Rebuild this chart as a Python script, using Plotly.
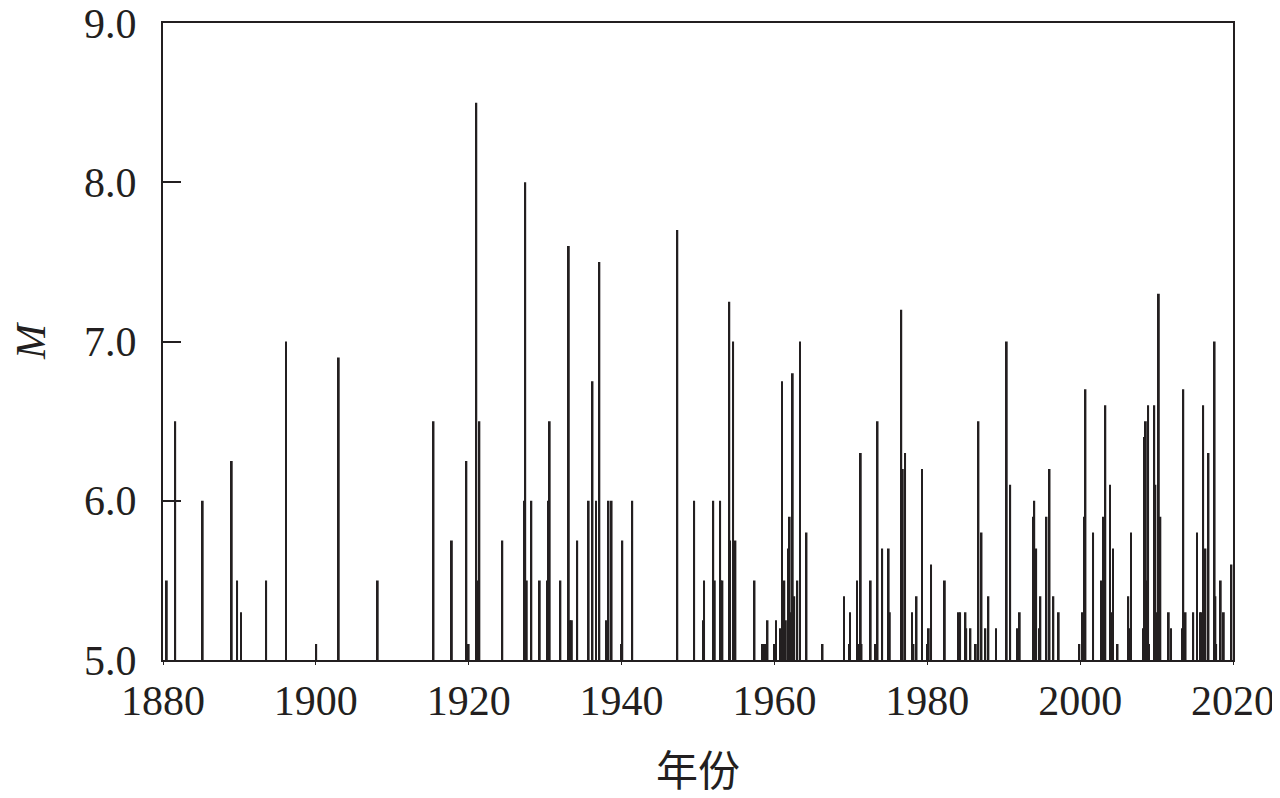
import plotly.graph_objects as go

# Event years (decimal) and magnitudes
years = [
    1880.5, 1881.6, 1885.2, 1889.0, 1889.7, 1890.2, 1893.5, 1896.1, 1900.05, 1903.0,
    1908.1, 1915.4, 1917.8, 1919.7, 1920.0, 1921.0, 1921.3, 1921.4, 1924.4, 1927.3,
    1927.4, 1927.6, 1928.2, 1929.3, 1930.3, 1930.4, 1930.6, 1932.0, 1933.1, 1933.3,
    1933.5, 1934.2, 1935.7, 1936.2, 1936.65, 1937.1, 1938.0, 1938.3, 1938.7, 1940.0,
    1940.1, 1941.4, 1947.3, 1949.5, 1950.65, 1950.8, 1952.0, 1952.2, 1952.9, 1953.0,
    1953.2, 1954.1, 1954.2, 1954.6, 1954.9, 1957.4, 1958.4, 1958.7, 1958.9, 1959.1,
    1960.0, 1960.2, 1960.8, 1961.0, 1961.3, 1961.5, 1961.8, 1962.0, 1962.2, 1962.4,
    1962.6, 1963.0, 1963.35, 1964.2, 1966.3, 1969.1, 1969.8, 1969.9, 1970.8, 1971.0,
    1971.2, 1971.3, 1971.4, 1972.6, 1973.2, 1973.5, 1974.1, 1974.95, 1975.1, 1976.6,
    1976.8, 1977.1, 1978.0, 1978.2, 1978.6, 1979.3, 1980.0, 1980.2, 1980.5, 1982.3,
    1984.1, 1984.3, 1985.0, 1985.1, 1985.65, 1986.35, 1986.7, 1987.1, 1987.6, 1988.0,
    1989.0, 1990.4, 1990.85, 1991.8, 1992.1, 1993.9, 1994.0, 1994.25, 1994.7, 1994.8,
    1995.6, 1996.0, 1996.5, 1997.2, 1999.9, 2000.3, 2000.5, 2000.7, 2001.7, 2002.8,
    2003.0, 2003.3, 2003.9, 2004.2, 2004.3, 2004.9, 2006.3, 2006.4, 2006.65, 2008.3,
    2008.4, 2008.6, 2008.7, 2008.9, 2009.0, 2009.7, 2009.85, 2010.0, 2010.3, 2010.5,
    2011.6, 2011.9, 2013.4, 2013.5, 2013.8, 2014.8, 2015.3, 2015.7, 2015.85, 2016.1,
    2016.4, 2016.8, 2017.6, 2017.7, 2017.8, 2018.4, 2018.8, 2019.8,
]
magnitudes = [
    5.5, 6.5, 6.0, 6.25, 5.5, 5.3, 5.5, 7.0, 5.1, 6.9,
    5.5, 6.5, 5.75, 6.25, 5.1, 8.5, 5.5, 6.5, 5.75, 6.0,
    8.0, 5.5, 6.0, 5.5, 5.5, 6.0, 6.5, 5.5, 7.6, 5.25,
    5.25, 5.75, 6.0, 6.75, 6.0, 7.5, 5.25, 6.0, 6.0, 5.1,
    5.75, 6.0, 7.7, 6.0, 5.25, 5.5, 6.0, 5.5, 6.0, 5.5,
    5.5, 7.25, 5.75, 7.0, 5.75, 5.5, 5.1, 5.1, 5.1, 5.25,
    5.1, 5.25, 5.2, 6.75, 5.5, 5.25, 5.7, 5.9, 5.3, 6.8,
    5.4, 5.5, 7.0, 5.8, 5.1, 5.4, 5.1, 5.3, 5.5, 5.1,
    6.3, 6.3, 5.1, 5.5, 5.1, 6.5, 5.7, 5.7, 5.3, 7.2,
    6.2, 6.3, 5.3, 5.1, 5.4, 6.2, 5.1, 5.2, 5.6, 5.5,
    5.3, 5.3, 5.3, 5.2, 5.2, 5.1, 6.5, 5.8, 5.2, 5.4,
    5.2, 7.0, 6.1, 5.2, 5.3, 5.9, 6.0, 5.7, 5.2, 5.4,
    5.9, 6.2, 5.4, 5.3, 5.1, 5.3, 5.9, 6.7, 5.8, 5.5,
    5.9, 6.6, 6.1, 5.3, 5.7, 5.1, 5.4, 5.2, 5.8, 5.2,
    6.4, 6.5, 5.5, 6.6, 5.1, 6.6, 6.1, 5.3, 7.3, 5.9,
    5.3, 5.2, 5.2, 6.7, 5.3, 5.3, 5.8, 5.3, 5.3, 6.6,
    5.7, 6.3, 7.0, 5.4, 5.1, 5.5, 5.3, 5.6,
]
x_ticks = [1880, 1900, 1920, 1940, 1960, 1980, 2000, 2020]
y_ticks = [5.0, 6.0, 7.0, 8.0, 9.0]

ink = "#231f20"
serif = "Liberation Serif, Times New Roman, serif"

fig = go.Figure(go.Bar(
    x=years, y=magnitudes, width=0.24,
    marker=dict(color=ink, line=dict(width=0)),
    hoverinfo="x+y",
))

fig.update_layout(
    width=1272, height=790,
    margin=dict(l=155, r=47, t=15, b=138),
    paper_bgcolor="white", plot_bgcolor="white",
    showlegend=False,
    font=dict(family=serif, size=42, color=ink),
)
fig.update_xaxes(
    range=[1880, 2020], tickvals=x_ticks, automargin=False,
    ticklabeloverflow="allow",
    showline=True, linecolor=ink, linewidth=2, mirror=True,
    ticks="outside", ticklen=3, tickwidth=1, tickcolor=ink,
    showgrid=False, zeroline=False,
    tickfont=dict(family=serif, size=42, color=ink),
    title=dict(text="年份", font=dict(family="Noto Sans CJK SC", size=42, color=ink), standoff=53),
)
fig.update_yaxes(
    range=[5, 9], tickvals=y_ticks, tickformat=".1f", automargin=False,
    ticklabeloverflow="allow",
    showline=True, linecolor=ink, linewidth=2, mirror=True,
    ticks="inside", ticklen=18, tickwidth=2, tickcolor=ink,
    ticklabelstandoff=16,
    showgrid=False, zeroline=False,
    tickfont=dict(family=serif, size=42, color=ink),
    title=dict(text="<i>M</i>", font=dict(family=serif, size=42, color=ink), standoff=26),
)

fig.write_html("out.html")
